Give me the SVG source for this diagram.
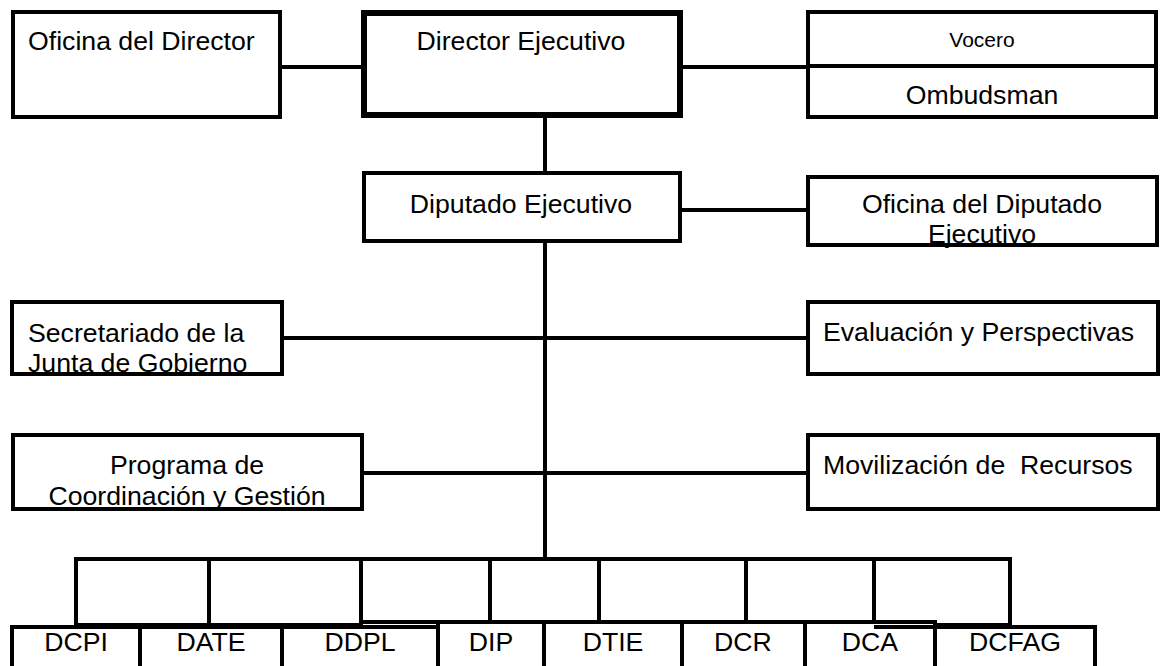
<svg xmlns="http://www.w3.org/2000/svg" width="1160" height="666" viewBox="0 0 1160 666">
<style>
  .box { fill: #fff; stroke: #000; stroke-width: 4; }
  .thick { fill: #fff; stroke: #000; stroke-width: 6; }
  .ln { stroke: #000; stroke-width: 4; fill: none; }
  text { font-family: "Liberation Sans", Arial, sans-serif; font-size: 26.67px; fill: #000; }
  .c { text-anchor: middle; }
</style>
<rect width="1160" height="666" fill="#fff"/>
<g id="connectors">
  <line class="ln" x1="280" y1="67" x2="364" y2="67"/>
  <line class="ln" x1="680" y1="67" x2="808" y2="67"/>
  <line class="ln" x1="545" y1="115" x2="545" y2="559"/>
  <line class="ln" x1="680" y1="210" x2="808" y2="210"/>
  <line class="ln" x1="282" y1="338" x2="808" y2="338"/>
  <line class="ln" x1="362" y1="473" x2="808" y2="473"/>
</g>
<g id="oficina-director">
  <rect class="box" x="13" y="12" width="267" height="105"/>
  <text x="28" y="50">Oficina del Director</text>
</g>
<g id="director-ejecutivo">
  <rect class="thick" x="364" y="13" width="316" height="102"/>
  <text class="c" x="521" y="50">Director Ejecutivo</text>
</g>
<g id="vocero-ombudsman">
  <rect class="box" x="808" y="12" width="348" height="105"/>
  <line class="ln" x1="808" y1="66" x2="1156" y2="66"/>
  <text class="c" x="982" y="47" style="font-size:21px">Vocero</text>
  <text class="c" x="982" y="104">Ombudsman</text>
</g>
<g id="diputado-ejecutivo">
  <rect class="box" x="364" y="173" width="316" height="68"/>
  <text class="c" x="521" y="213">Diputado Ejecutivo</text>
</g>
<g id="oficina-diputado">
  <rect class="box" x="808" y="177" width="349" height="68"/>
  <text class="c" x="982" y="213">Oficina del Diputado</text>
  <text class="c" x="982" y="243">Ejecutivo</text>
</g>
<g id="secretariado">
  <rect class="box" x="12" y="302" width="270" height="72"/>
  <text x="28" y="342">Secretariado de la</text>
  <text x="28" y="372">Junta de Gobierno</text>
</g>
<g id="evaluacion">
  <rect class="box" x="808" y="302" width="350" height="72"/>
  <text x="823" y="341">Evaluación y Perspectivas</text>
</g>
<g id="programa">
  <rect class="box" x="13" y="435" width="349" height="74"/>
  <text class="c" x="187" y="474">Programa de</text>
  <text class="c" x="187" y="505">Coordinación y Gestión</text>
</g>
<g id="movilizacion">
  <rect class="box" x="808" y="435" width="350" height="74"/>
  <text x="823" y="474" xml:space="preserve">Movilización de  Recursos</text>
</g>
<g id="bus">
  <rect class="box" x="76" y="559" width="133" height="66"/>
  <rect class="box" x="209" y="559" width="152" height="66"/>
  <rect class="box" x="361" y="559" width="129" height="63"/>
  <rect class="box" x="490" y="559" width="109" height="63"/>
  <rect class="box" x="599" y="559" width="147" height="63"/>
  <rect class="box" x="746" y="559" width="128" height="63"/>
  <rect class="box" x="874" y="559" width="136" height="66"/>
</g>
<g id="dcpi"><rect class="box" x="12" y="627" width="128" height="60"/><text class="c" x="76" y="651">DCPI</text></g>
<g id="date"><rect class="box" x="140" y="627" width="142" height="60"/><text class="c" x="211" y="651">DATE</text></g>
<g id="ddpl"><rect class="box" x="282" y="627" width="156" height="60"/><line class="ln" x1="282" y1="627" x2="361" y2="627"/><text class="c" x="360" y="651">DDPL</text></g>
<g id="dip"><rect class="box" x="438" y="622" width="106" height="65"/><text class="c" x="491" y="651">DIP</text></g>
<g id="dtie"><rect class="box" x="544" y="622" width="138" height="65"/><text class="c" x="613" y="651">DTIE</text></g>
<g id="dcr"><rect class="box" x="682" y="622" width="123" height="65"/><text class="c" x="743" y="651">DCR</text></g>
<g id="dca"><rect class="box" x="805" y="622" width="130" height="65"/><line class="ln" x1="874" y1="627" x2="935" y2="627"/><text class="c" x="870" y="651">DCA</text></g>
<g id="dcfag"><rect class="box" x="935" y="627" width="160" height="60"/><text class="c" x="1015" y="651">DCFAG</text></g>
</svg>
